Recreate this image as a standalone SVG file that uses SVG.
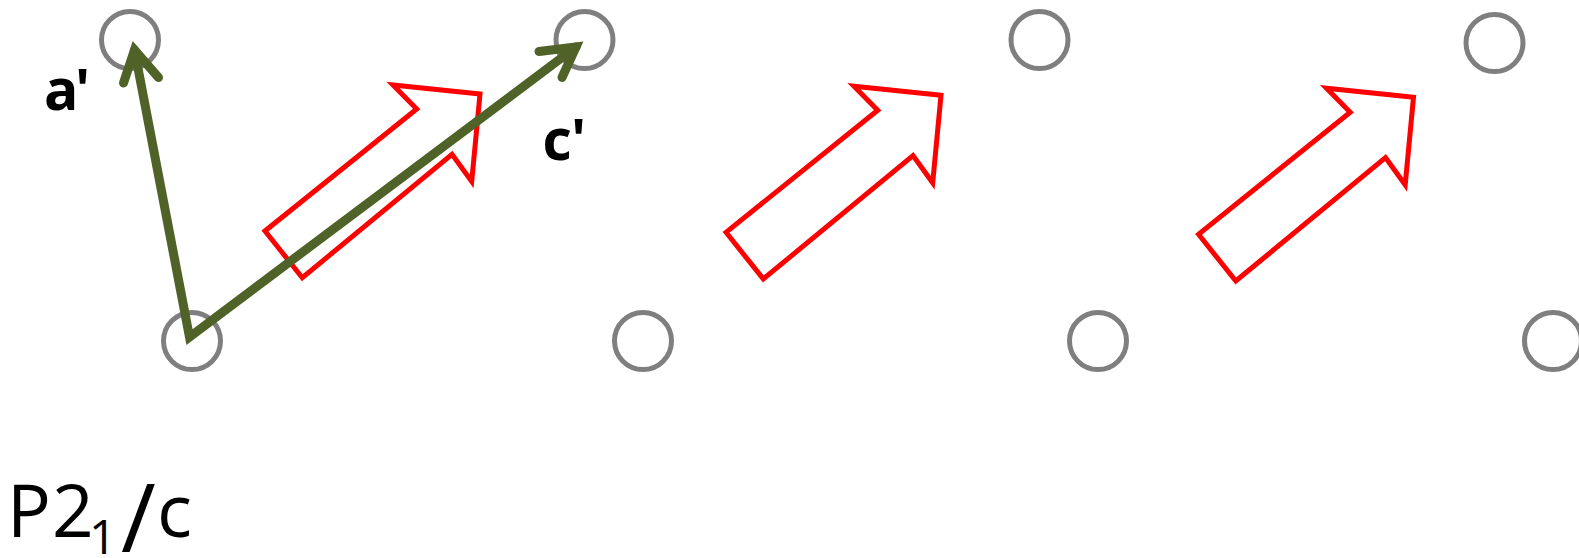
<svg xmlns="http://www.w3.org/2000/svg" width="1579" height="558" viewBox="0 0 1579 558">
  <style>
    .site { fill: none; stroke: #7f7f7f; stroke-width: 5; }
    .mol { fill: none; stroke: #ff0000; stroke-width: 5; stroke-linejoin: miter; }
    .axis { fill: none; stroke: #4f6228; stroke-width: 9; stroke-linecap: round; stroke-linejoin: miter; stroke-miterlimit: 10; }
    .lbl { font-family: "Open Sans", "Noto Sans", sans-serif; font-weight: bold; font-size: 57px; fill: #000; }
    .grp { font-family: "Open Sans", "Noto Sans", sans-serif; font-size: 73px; fill: #000; }
  </style>
  <defs>
    <!-- block arrow outline, tail corner at origin -->
    <path id="molArrow" d="M0,0 L37.3,46.7 L187,-76.7 L206.7,-49.5 L215,-137 L128,-146 L151.7,-122 Z"/>
  </defs>

  <rect width="1579" height="558" fill="#ffffff"/>

  <!-- lattice sites -->
  <g id="site-top-1"><circle class="site" cx="130" cy="40" r="28.5"/></g>
  <g id="site-top-2"><circle class="site" cx="584.5" cy="40" r="28.5"/></g>
  <g id="site-top-3"><circle class="site" cx="1039.5" cy="40" r="28.5"/></g>
  <g id="site-top-4"><circle class="site" cx="1494.5" cy="43" r="28.5"/></g>
  <g id="site-bot-1"><circle class="site" cx="192" cy="341" r="28.5"/></g>
  <g id="site-bot-2"><circle class="site" cx="643" cy="341" r="28.5"/></g>
  <g id="site-bot-3"><circle class="site" cx="1098" cy="341" r="28.5"/></g>
  <g id="site-bot-4"><circle class="site" cx="1553" cy="341" r="28.5"/></g>

  <!-- molecules -->
  <g id="mol-1"><use href="#molArrow" class="mol" transform="translate(265,231)"/></g>
  <g id="mol-2"><use href="#molArrow" class="mol" transform="translate(726,232.3)"/></g>
  <g id="mol-3"><use href="#molArrow" class="mol" transform="translate(1198.5,234.3)"/></g>

  <!-- cell axes -->
  <g id="connectors">
    <polyline class="axis" points="134.5,50 189.5,337 576,47"/>
    <polyline class="axis" points="123.5,83 134.5,50 158.5,77.5"/>
    <polyline class="axis" points="539,51.5 576,47 562,77.5"/>
  </g>

  <!-- axis labels -->
  <g id="label-a">
    <text class="lbl" y="110"><tspan x="44">a</tspan><tspan x="75">'</tspan></text>
  </g>
  <g id="label-c">
    <text class="lbl" y="160"><tspan x="542.5">c</tspan><tspan x="571">'</tspan></text>
  </g>

  <!-- space group symbol -->
  <g id="space-group">
    <text class="grp"><tspan x="7" y="537">P</tspan><tspan x="52" y="537">2</tspan><tspan x="89" y="554" font-size="48">1</tspan><tspan x="121" y="552" font-size="95">/</tspan><tspan x="157" y="537">c</tspan></text>
  </g>
</svg>
